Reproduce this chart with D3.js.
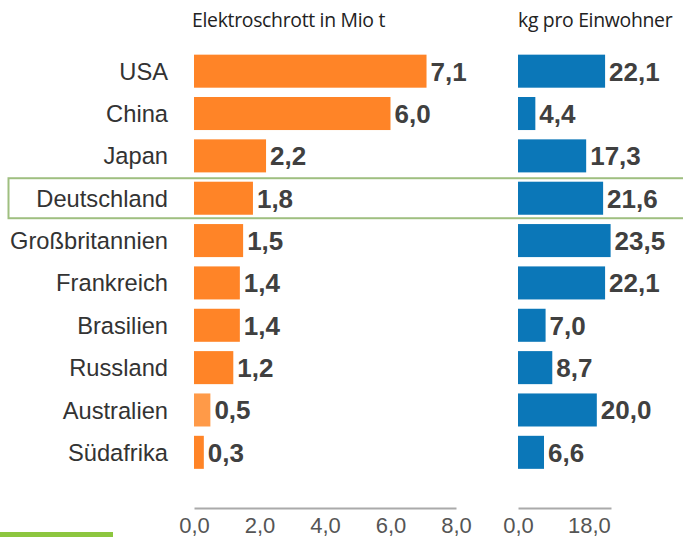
<!DOCTYPE html>
<html><head><meta charset="utf-8">
<script src="https://cdn.jsdelivr.net/npm/d3@7"></script>
<style>
body{margin:0;background:#fff}
svg{display:block}
.lbl{font-family:"Liberation Sans",Arial,sans-serif}
.hdr{font-family:"Open Sans",sans-serif}
</style>
</head><body>
<script>
const categories = ["USA","China","Japan","Deutschland","Großbritannien","Frankreich","Brasilien","Russland","Australien","Südafrika"];
const tonnes = [7.1,6.0,2.2,1.8,1.5,1.4,1.4,1.2,0.5,0.3];
const perCapita = [22.1,4.4,17.3,21.6,23.5,22.1,7.0,8.7,20.0,6.6];
const tonnesTicks = [0,2,4,6,8];
const perCapitaTicks = [0,18];
const highlight = "Deutschland";
const fmt = v => (+v).toFixed(1).replace(".", ",");

const W = 683, H = 537;
const svg = d3.select("body").append("svg").attr("width", W).attr("height", H);

const y = d3.scaleBand().domain(categories).range([50, 473.5]).paddingInner(0.22).paddingOuter(0.11);
const x1 = d3.scaleLinear().domain([0, 8]).range([194, 456]);
const x2 = d3.scaleLinear().domain([0, 23.6]).range([518, 611]);

// highlight box
svg.append("rect")
  .attr("x", 8.5).attr("y", y(highlight) + y.bandwidth()/2 - 20)
  .attr("width", 690).attr("height", 40)
  .attr("fill", "none").attr("stroke", "#9fbf80").attr("stroke-width", 2);

// headers
svg.append("text").attr("class", "hdr").attr("x", 192).attr("y", 27).text("Elektroschrott in Mio t")
  .style("font-size", "19.4px").style("letter-spacing", "-0.3px").attr("fill", "#222");
svg.append("text").attr("class", "hdr").attr("x", 518).attr("y", 27).text("kg pro Einwohner")
  .style("font-size", "19.4px").style("letter-spacing", "-0.3px").attr("fill", "#222");

// category labels
svg.append("g").selectAll("text").data(categories).join("text")
  .attr("class", "lbl")
  .attr("x", 168).attr("y", d => y(d) + y.bandwidth()/2).attr("dy", "0.36em")
  .attr("text-anchor", "end").style("font-size", "23.7px").attr("fill", "#333")
  .text(d => d);

// orange bars
svg.append("g").selectAll("rect").data(categories).join("rect")
  .attr("x", x1(0)).attr("y", d => y(d)).attr("height", y.bandwidth())
  .attr("width", (d, i) => x1(tonnes[i]) - x1(0))
  .attr("fill", d => d === "Australien" ? "#ff9a48" : "#ff8427");
svg.append("g").selectAll("text").data(categories).join("text")
  .attr("class", "lbl")
  .attr("x", (d, i) => x1(tonnes[i]) + 4).attr("y", d => y(d) + y.bandwidth()/2).attr("dy", "0.36em")
  .style("font-size", "26px").style("font-weight", "bold").attr("fill", "#404040")
  .text((d, i) => fmt(tonnes[i]));

// blue bars
svg.append("g").selectAll("rect").data(categories).join("rect")
  .attr("x", x2(0)).attr("y", d => y(d)).attr("height", y.bandwidth())
  .attr("width", (d, i) => x2(perCapita[i]) - x2(0))
  .attr("fill", "#0b77b8");
svg.append("g").selectAll("text").data(categories).join("text")
  .attr("class", "lbl")
  .attr("x", (d, i) => x2(perCapita[i]) + 4).attr("y", d => y(d) + y.bandwidth()/2).attr("dy", "0.36em")
  .style("font-size", "26px").style("font-weight", "bold").attr("fill", "#404040")
  .text((d, i) => fmt(perCapita[i]));

// axes
function drawAxis(scale, ticks) {
  const g = svg.append("g").attr("transform", "translate(0,508)")
    .call(d3.axisBottom(scale).tickValues(ticks).tickSize(0).tickPadding(9).tickFormat(fmt));
  g.select(".domain").attr("stroke", "#aaa").attr("stroke-width", 2);
  g.selectAll("text").attr("class", "lbl").style("font-size", "22px").attr("fill", "#555");
}
drawAxis(x1, tonnesTicks);
drawAxis(x2, perCapitaTicks);

// green accent line
svg.append("rect").attr("x", 0).attr("y", 532).attr("width", 113).attr("height", 5).attr("fill", "#8dc63f");
</script>
</body></html>
